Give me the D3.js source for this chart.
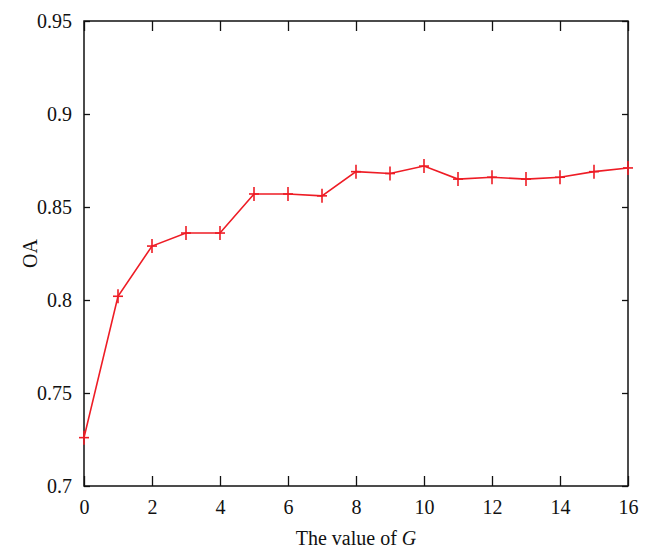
<html>
<script src="https://d3js.org/d3.v7.min.js"></script>
<style>
body { margin: 0; background: #fff; }
text { font-family: "Liberation Serif", "DejaVu Serif", serif; fill: #111; }
</style>
<body>
<svg width="651" height="558"></svg>
<script>
// data
var gValues = [0, 1, 2, 3, 4, 5, 6, 7, 8, 9, 10, 11, 12, 13, 14, 15, 16];
var oaValues = [0.726, 0.802, 0.829, 0.836, 0.836, 0.857, 0.857, 0.856, 0.869, 0.868, 0.872, 0.865, 0.866, 0.865, 0.866, 0.869, 0.871];
var xTicks = [0, 2, 4, 6, 8, 10, 12, 14, 16];
var yTicks = [0.7, 0.75, 0.8, 0.85, 0.9, 0.95];

var svg = d3.select("svg");
var plotL = 84, plotR = 628, plotT = 21, plotB = 486;

var x = d3.scaleLinear().domain([0, 16]).range([plotL, plotR]);
var y = d3.scaleLinear().domain([0.7, 0.95]).range([plotB, plotT]);

// ticks on all four sides, pointing inward
function styleAxis(g) {
  g.attr("font-family", "Liberation Serif, DejaVu Serif, serif");
  g.select(".domain").remove();
  g.selectAll(".tick line").attr("stroke", "#111").attr("stroke-width", 1.3);
  g.selectAll(".tick text").style("font-size", "20px").attr("fill", "#111");
}

svg.append("g")
  .attr("transform", "translate(0," + plotB + ")")
  .call(d3.axisBottom(x).tickValues(xTicks).tickSize(-10).tickPadding(14).tickFormat(d3.format("d")))
  .call(styleAxis);
svg.append("g")
  .attr("transform", "translate(0," + plotT + ")")
  .call(d3.axisTop(x).tickValues(xTicks).tickSize(-10).tickFormat(""))
  .call(styleAxis);
svg.append("g")
  .attr("transform", "translate(" + plotL + ",0)")
  .call(d3.axisLeft(y).tickValues(yTicks).tickSize(-6).tickPadding(12).tickFormat(d3.format("~g")))
  .call(styleAxis);
svg.append("g")
  .attr("transform", "translate(" + plotR + ",0)")
  .call(d3.axisRight(y).tickValues(yTicks).tickSize(-6).tickFormat(""))
  .call(styleAxis);

// frame
svg.append("rect")
  .attr("x", plotL).attr("y", plotT)
  .attr("width", plotR - plotL).attr("height", plotB - plotT)
  .attr("fill", "none").attr("stroke", "#111").attr("stroke-width", 1.5);

var data = gValues.map(function (g, i) { return { g: g, v: oaValues[i] }; });

svg.append("path")
  .datum(data)
  .attr("fill", "none")
  .attr("stroke", "#ee1c25")
  .attr("stroke-width", 1.6)
  .attr("d", d3.line().x(function (d) { return x(d.g); }).y(function (d) { return y(d.v); }));

// plus markers
var marks = svg.append("g").attr("stroke", "#ee1c25").attr("stroke-width", 1.6);
marks.selectAll(".v").data(data).enter().append("line")
  .attr("x1", function (d) { return x(d.g); }).attr("x2", function (d) { return x(d.g); })
  .attr("y1", function (d) { return y(d.v) - 7; }).attr("y2", function (d) { return y(d.v) + 7; });
marks.selectAll(".h").data(data).enter().append("line")
  .attr("x1", function (d) { return x(d.g) - 5; }).attr("x2", function (d) { return x(d.g) + 5; })
  .attr("y1", function (d) { return y(d.v); }).attr("y2", function (d) { return y(d.v); });

// axis titles
var xl = svg.append("text")
  .attr("x", (plotL + plotR) / 2).attr("y", 545)
  .attr("text-anchor", "middle")
  .style("font-size", "20px");
xl.append("tspan").text("The value of ");
xl.append("tspan").style("font-style", "italic").text("G");

svg.append("text")
  .attr("transform", "translate(37," + ((plotT + plotB) / 2) + ") rotate(-90)")
  .attr("text-anchor", "middle")
  .style("font-size", "20px")
  .text("OA");
</script>
</body>
</html>
